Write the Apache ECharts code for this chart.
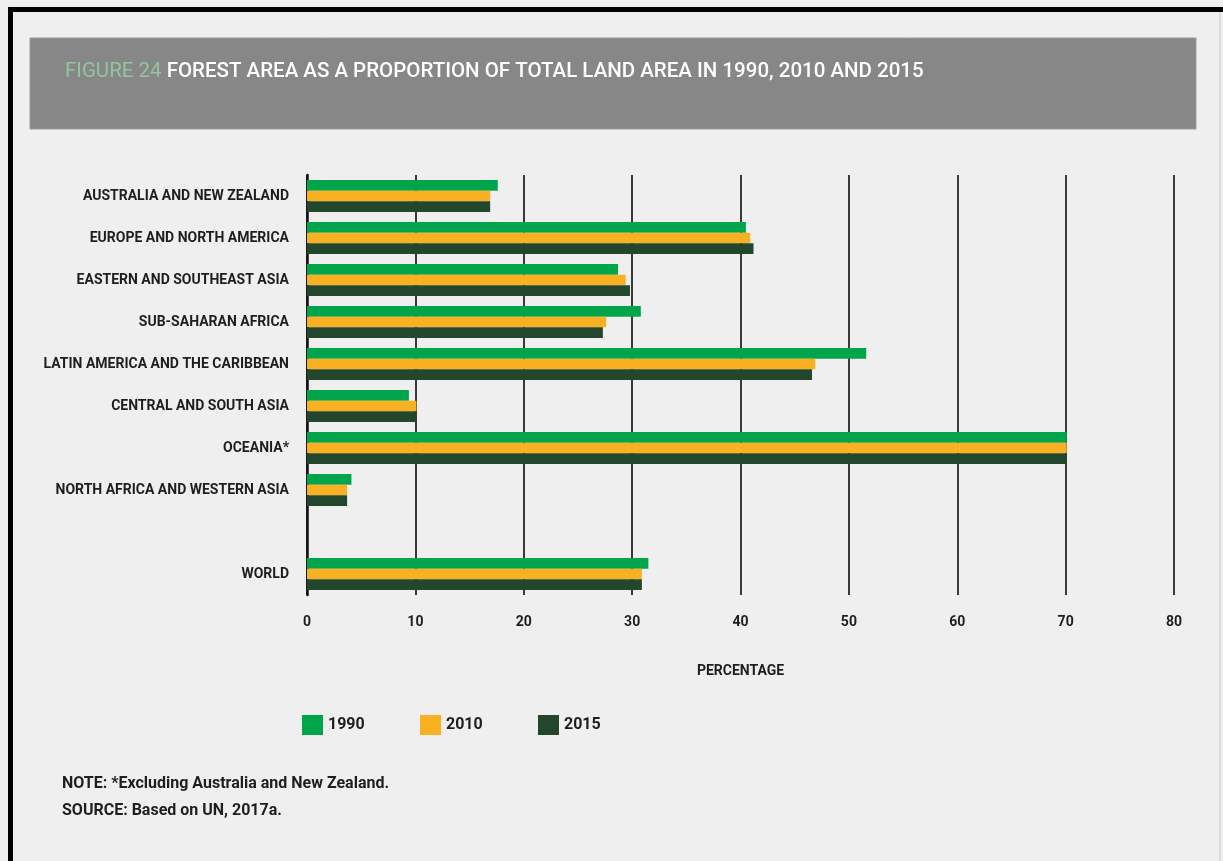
<!DOCTYPE html>
<html>
<head>
<meta charset="utf-8">
<title>Forest area</title>
<script src="https://cdn.jsdelivr.net/npm/echarts@6/dist/echarts.min.js"></script>
<style>
  html, body { margin: 0; padding: 0; background: #efefef; }
  #chart { width: 1223px; height: 861px; }
</style>
</head>
<body>
<div id="chart"></div>
<script>
// categories top to bottom; "" is the blank row before WORLD
const regions = [
  "AUSTRALIA AND NEW ZEALAND",
  "EUROPE AND NORTH AMERICA",
  "EASTERN AND SOUTHEAST ASIA",
  "SUB-SAHARAN AFRICA",
  "LATIN AMERICA AND THE CARIBBEAN",
  "CENTRAL AND SOUTH ASIA",
  "OCEANIA*",
  "NORTH AFRICA AND WESTERN ASIA",
  "",
  "WORLD"
];
const years = ["1990", "2010", "2015"];
const v1990 = [17.6, 40.5, 28.7, 30.8, 51.6, 9.4, 70.1, 4.1, null, 31.5];
const v2010 = [16.9, 40.9, 29.4, 27.6, 46.9, 10.1, 70.1, 3.7, null, 30.9];
const v2015 = [16.9, 41.2, 29.8, 27.3, 46.6, 10.1, 70.1, 3.7, null, 30.9];
const xTicks = [0, 10, 20, 30, 40, 50, 60, 70, 80];

const colors = ["#00a54b", "#f9b122", "#22472c"];
const font = 'Roboto, "Liberation Sans", sans-serif';

const chart = echarts.init(document.getElementById("chart"));

const legendLeft = [302, 420, 538];

chart.setOption({
  backgroundColor: "#efefef",
  animation: false,
  textStyle: { fontFamily: font },
  grid: { left: 307, right: 49, top: 175, bottom: 266, outerBoundsMode: "none", containLabel: false },
  legend: years.map((y, i) => ({
    data: [y],
    left: legendLeft[i],
    top: 715,
    padding: 0,
    itemWidth: 21,
    itemHeight: 20,
    itemGap: 0,
    icon: "rect",
    textStyle: { fontFamily: font, fontWeight: "bold", fontSize: 16, color: "#1e1e1e" }
  })),
  xAxis: {
    type: "value",
    min: xTicks[0],
    max: xTicks[xTicks.length - 1],
    interval: 10,
    axisLine: { show: false },
    axisTick: { show: false },
    splitLine: { show: true, lineStyle: { color: "#3a3a3a", width: 2 } },
    axisLabel: {
      margin: 20,
      fontFamily: font, fontWeight: "bold", fontSize: 14, color: "#1e1e1e"
    },
    name: "PERCENTAGE",
    nameLocation: "middle",
    nameGap: 69,
    nameTextStyle: { fontFamily: font, fontWeight: "bold", fontSize: 14, color: "#1e1e1e" }
  },
  yAxis: {
    type: "category",
    inverse: true,
    data: regions,
    axisLine: { show: true, lineStyle: { color: "#111", width: 2.5 } },
    axisTick: { show: false },
    axisLabel: {
      margin: 18,
      fontFamily: font, fontWeight: "bold", fontSize: 14, color: "#1e1e1e"
    }
  },
  series: [v1990, v2010, v2015].map((d, i) => ({
    name: years[i],
    type: "bar",
    data: d,
    barGap: "0%",
    barCategoryGap: "24%",
    itemStyle: { color: colors[i] }
  })),
  graphic: [
    // frame edges
    { type: "rect", shape: { x: 8, y: 7, width: 1215, height: 5 }, style: { fill: "#000" } },
    { type: "rect", shape: { x: 8, y: 7, width: 5, height: 854 }, style: { fill: "#000" } },
    { type: "rect", shape: { x: 1219, y: 12, width: 2, height: 849 }, style: { fill: "#dcdcdc" } },
    // title banner
    { type: "rect", shape: { x: 30, y: 38, width: 1166, height: 91 }, style: { fill: "#878787", stroke: "#9a9a9a", lineWidth: 1 } },
    {
      type: "text", left: 65, top: 61,
      style: {
        text: "{g|FIGURE 24 }{w|FOREST AREA AS A PROPORTION OF TOTAL LAND AREA IN 1990, 2010 AND 2015}",
        rich: {
          g: { fill: "#92c49f", fontFamily: font, fontSize: 20.5, fontWeight: "normal" },
          w: { fill: "#ffffff", fontFamily: font, fontSize: 20.5, fontWeight: 500 }
        }
      }
    },
    // notes
    {
      type: "text", left: 62, top: 776,
      style: { text: "NOTE: *Excluding Australia and New Zealand.", fill: "#1e1e1e", fontFamily: font, fontSize: 16, fontWeight: "bold" }
    },
    {
      type: "text", left: 62, top: 803,
      style: { text: "SOURCE: Based on UN, 2017a.", fill: "#1e1e1e", fontFamily: font, fontSize: 16, fontWeight: "bold" }
    }
  ]
});
</script>
</body>
</html>
